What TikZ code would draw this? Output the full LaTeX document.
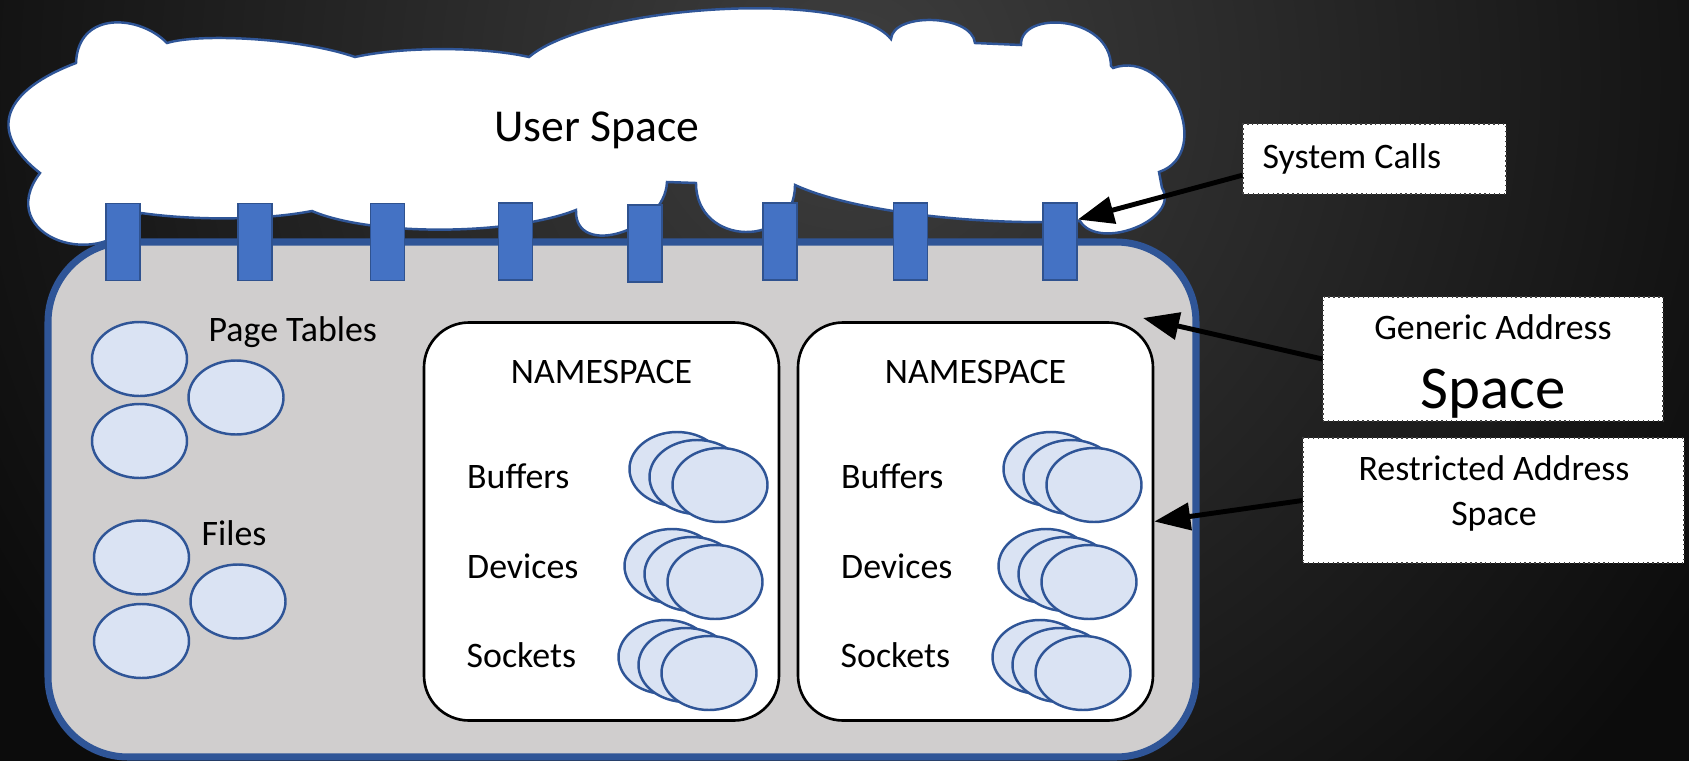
\documentclass[tikz,border=0pt]{standalone}
\usepackage{fontspec}
\setmainfont{Carlito}
\usetikzlibrary{shapes.geometric,arrows.meta}
\definecolor{bordblue}{HTML}{2F5597}
\definecolor{tabblue}{HTML}{4472C4}
\definecolor{tabedge}{HTML}{2F528F}
\definecolor{ellfill}{HTML}{DAE3F3}
\definecolor{kgray}{HTML}{D0CECE}
\definecolor{bgin}{HTML}{3E3E3E}
\definecolor{bgout}{HTML}{0C0C0C}
\pgfdeclareradialshading{bgglow}{\pgfpoint{0bp}{0bp}}{color(0bp)=(bgin); color(25bp)=(bgout); color(50bp)=(bgout)}
\begin{document}
\begin{tikzpicture}[x=0.1mm, y=-0.1mm,
	bodytext/.style={inner sep=0pt, font=\fontsize{10.2}{12}\selectfont},
	tab/.style={draw=tabedge, fill=tabblue, line width=0.45pt, minimum width=3.4mm, minimum height=7.7mm, inner sep=0pt},
	blob/.style={ellipse, draw=bordblue, fill=ellfill, line width=0.7pt, minimum width=9.5mm, minimum height=7.4mm, inner sep=0pt},
	nsbox/.style={draw=black, fill=white, line width=0.75pt, rounded corners=4.5mm, minimum width=35.5mm, minimum height=39.8mm},
	callout/.style={draw=black!75, densely dotted, fill=white, line width=0.4pt, inner sep=0pt},
	pointer/.style={line width=1.4pt, -{Triangle[length=3.6mm, width=2.7mm]}}]

	\fill[bgout] (0,0) rectangle (1689,761);
	\begin{scope}
		\clip (0,0) rectangle (1689,761);
		\shade[shading=bgglow] (850,80) circle (100mm);
	\end{scope}
	\useasboundingbox (0,0) rectangle (1689,761);

	\node[draw=bordblue, fill=kgray, line width=2pt, rounded corners=8mm, minimum width=114.8mm, minimum height=51.5mm] (kernel) at (622,499.5) {};

	\draw[draw=bordblue, fill=white, line width=0.7pt] (40,173)
		.. controls (-15,130) and (5,90) .. (76,63)
		.. controls (78,10) and (140,15) .. (167,43)
		.. controls (200,33) and (300,38) .. (355,57)
		.. controls (400,47) and (480,46) .. (529,57)
		.. controls (590,5) and (850,-12) .. (891,39)
		.. controls (893,12) and (972,14) .. (975,43)
		-- (1021,45)
		.. controls (1020,10) and (1110,15) .. (1111,66)
		-- (1113,68)
		.. controls (1169,48) and (1215,153) .. (1159,172)
		-- (1162,188)
		.. controls (1181,219) and (1099,252) .. (1080,221)
		.. controls (1000,226) and (860,215) .. (795,185)
		.. controls (795,249) and (696,247) .. (696,183)
		-- (667,182)
		.. controls (665,231) and (574,259) .. (576,210)
		.. controls (510,236) and (370,236) .. (312,211)
		.. controls (260,221) and (190,220) .. (141,213)
		.. controls (103,276) and (-8,236) .. (40,173) -- cycle;
	\node[bodytext, font=\fontsize{13}{15}\selectfont, anchor=base] (user) at (597,141) {User Space};

	\node[blob] (pt1) at (139.5,359) {};
	\node[blob] (pt2) at (236,397.5) {};
	\node[blob] (pt3) at (139.5,441) {};
	\node[bodytext, anchor=base west] (pttext) at (208,341) {Page Tables};

	\node[blob] (f1) at (141.5,557.5) {};
	\node[blob] (f2) at (238,601.5) {};
	\node[blob] (f3) at (141.5,641) {};
	\node[bodytext, anchor=base west] (ftext) at (201,545) {Files};

	\foreach \dx/\id in {0/a,374/b}{
		\node[nsbox] (ns\id) at (601.5+\dx,521.5) {};
		\node[bodytext, anchor=base] (nstitle\id) at (601.5+\dx,383) {NAMESPACE};
		\node[bodytext, anchor=base west] (buf\id) at (466.5+\dx,488) {Buffers};
		\node[bodytext, anchor=base west] (dev\id) at (466.5+\dx,578) {Devices};
		\node[bodytext, anchor=base west] (sock\id) at (466+\dx,667) {Sockets};
		\foreach \ox/\oy/\k in {0/0/1,20/8/2,43/16/3}{
			\node[blob] (bufobj\id\k) at (677+\dx+\ox,469+\oy) {};
			\node[blob] (devobj\id\k) at (672+\dx+\ox,566+\oy) {};
			\node[blob] (sockobj\id\k) at (666+\dx+\ox,657+\oy) {};
		}
	}

	\node[tab] (call1) at (123,242) {};
	\node[tab] (call2) at (255,242) {};
	\node[tab] (call3) at (387.5,242) {};
	\node[tab] (call4) at (515.5,241.5) {};
	\node[tab] (call5) at (645,243.5) {};
	\node[tab] (call6) at (780,241.5) {};
	\node[tab] (call7) at (910.5,241.5) {};
	\node[tab] (call8) at (1060,241.5) {};

	\node[callout, minimum width=26.3mm, minimum height=7mm] (sc) at (1374.5,159) {};
	\node[bodytext, anchor=base west] (sctext) at (1262,168) {System Calls};

	\node[callout, minimum width=34mm, minimum height=12.4mm] (gas) at (1493,359) {};
	\node[bodytext, anchor=base] (gastext) at (1493,339) {Generic Address};
	\node[bodytext, font=\fontsize{17.3}{20}\selectfont, anchor=base] (gasbig) at (1493,408) {Space};

	\node[callout, minimum width=38.1mm, minimum height=12.5mm] (ras) at (1493.5,500.5) {};
	\node[bodytext, anchor=base] (rastext) at (1494,480) {Restricted Address};
	\node[bodytext, anchor=base] (rasspace) at (1494,525) {Space};

	\coordinate (gastip) at (1143,318);
	\draw[pointer] (sc.187) -- (call8.51);
	\draw[pointer] (gas.west) -- (gastip);
	\draw[pointer] (ras.west) -- (nsb.east);
\end{tikzpicture}
\end{document}
